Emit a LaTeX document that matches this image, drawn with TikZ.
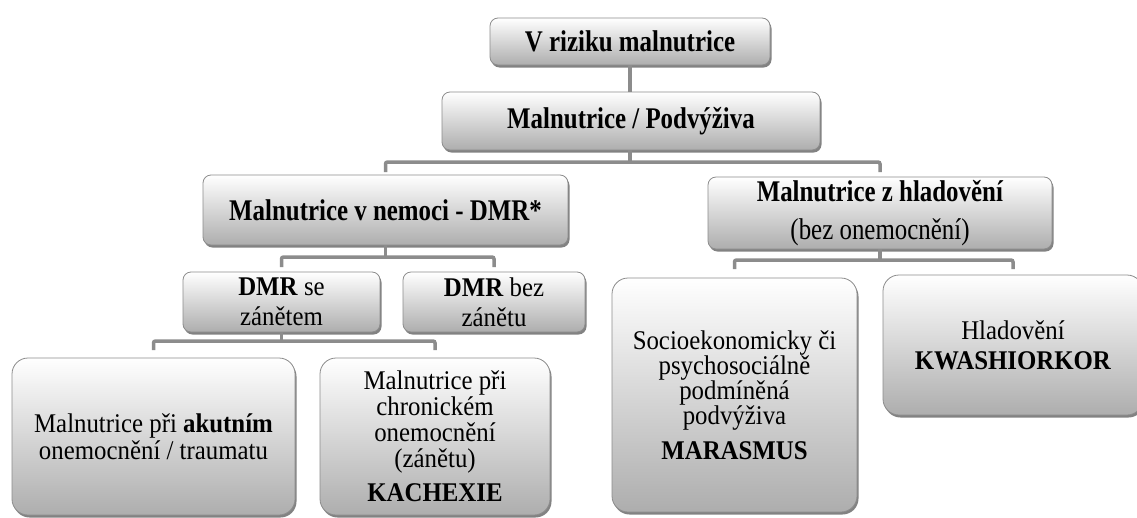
\documentclass[tikz,border=0pt]{standalone}
\usepackage{fontspec}
\setmainfont{Liberation Serif}[FakeStretch=0.92]
\newfontfamily\titlefont{Liberation Serif}[FakeStretch=0.83]
\usetikzlibrary{shadows}
\begin{document}
\begin{tikzpicture}[x=1pt,y=-1pt,
  box/.style={draw=black!45, line width=0.8pt, rounded corners=8pt,
    top color=white, bottom color=black!32,
    drop shadow={shadow xshift=1.5pt, shadow yshift=-2.5pt, fill=black!65, opacity=0.75},
    align=center, inner sep=0pt, font=\fontsize{27}{25}\selectfont, text=black},
  titlebox/.style={box, font=\titlefont\fontsize{30}{30}\selectfont},
  bigbox/.style={box, rounded corners=16pt},
  conn/.style={draw=black!45, line width=3.5pt, rounded corners=2pt}]
\useasboundingbox (0,0) rectangle (1137,517);
\fill[white] (0,0) rectangle (1137,517);
\clip (0,0) rectangle (1137,517);

\node[titlebox, minimum width=280pt, minimum height=47pt] (r1) at (630,41.5) {\textbf{V riziku malnutrice}};
\node[titlebox, minimum width=378pt, minimum height=58pt] (r2) at (631,121) {\textbf{Malnutrice / Podvýživa}};
\node[titlebox, minimum width=365pt, minimum height=70pt] (dmr) at (385.5,210) {\textbf{Malnutrice v nemoci - DMR*}};
\node[titlebox, minimum width=344pt, minimum height=72pt] (hlad) at (880,213) {\textbf{Malnutrice z hladovění}\\[8pt](bez onemocnění)};
\node[box, minimum width=197pt, minimum height=60pt, font=\fontsize{27}{30}\selectfont] (dmrse) at (281.5,302) {\textbf{DMR} se\\zánětem};
\node[box, minimum width=182pt, minimum height=60pt, font=\fontsize{27}{30}\selectfont] (dmrbez) at (494,302) {\textbf{DMR} bez\\zánětu};
\node[bigbox, minimum width=283pt, minimum height=157pt, font=\fontsize{27}{27}\selectfont] (akut) at (153.5,436.5) {Malnutrice při \textbf{akutním}\\onemocnění / traumatu};
\node[bigbox, minimum width=230pt, minimum height=157pt, font=\fontsize{27}{26}\selectfont] (chron) at (435,436.5) {Malnutrice při\\chronickém\\onemocnění\\(zánětu)\\[8pt]\textbf{KACHEXIE}};
\node[bigbox, minimum width=245pt, minimum height=234pt] (socio) at (734.5,395) {Socioekonomicky či\\psychosociálně\\podmíněná\\podvýživa\\[10pt]\textbf{MARASMUS}};
\node[bigbox, minimum width=260pt, minimum height=140pt, font=\fontsize{27}{30}\selectfont] (kwash) at (1013,345) {Hladovění\\\textbf{KWASHIORKOR}};

\draw[conn] (r1.south) -- (r1.south |- r2.north);
\draw[conn] (r2.south -| r1.south) -- (r1.south |- 0,162);
\draw[conn] (dmr.north |- 0,172) -- (dmr.north |- 0,162) -- (hlad.north |- 0,162) -- (hlad.north |- 0,172);
\draw[conn] (dmr.south) -- (dmr.south |- 0,257);
\draw[conn] (dmrse.north |- 0,267) -- (dmrse.north |- 0,257) -- (dmrbez.north |- 0,257) -- (dmrbez.north |- 0,267);
\draw[conn] (hlad.south) -- (hlad.south |- 0,260);
\draw[conn] (socio.north |- 0,269) -- (socio.north |- 0,260) -- (kwash.north |- 0,260) -- (kwash.north |- 0,269);
\draw[conn] (dmrse.south) -- (dmrse.south |- 0,341);
\draw[conn] (akut.north |- 0,350) -- (akut.north |- 0,341) -- (chron.north |- 0,341) -- (chron.north |- 0,350);
\end{tikzpicture}
\end{document}
